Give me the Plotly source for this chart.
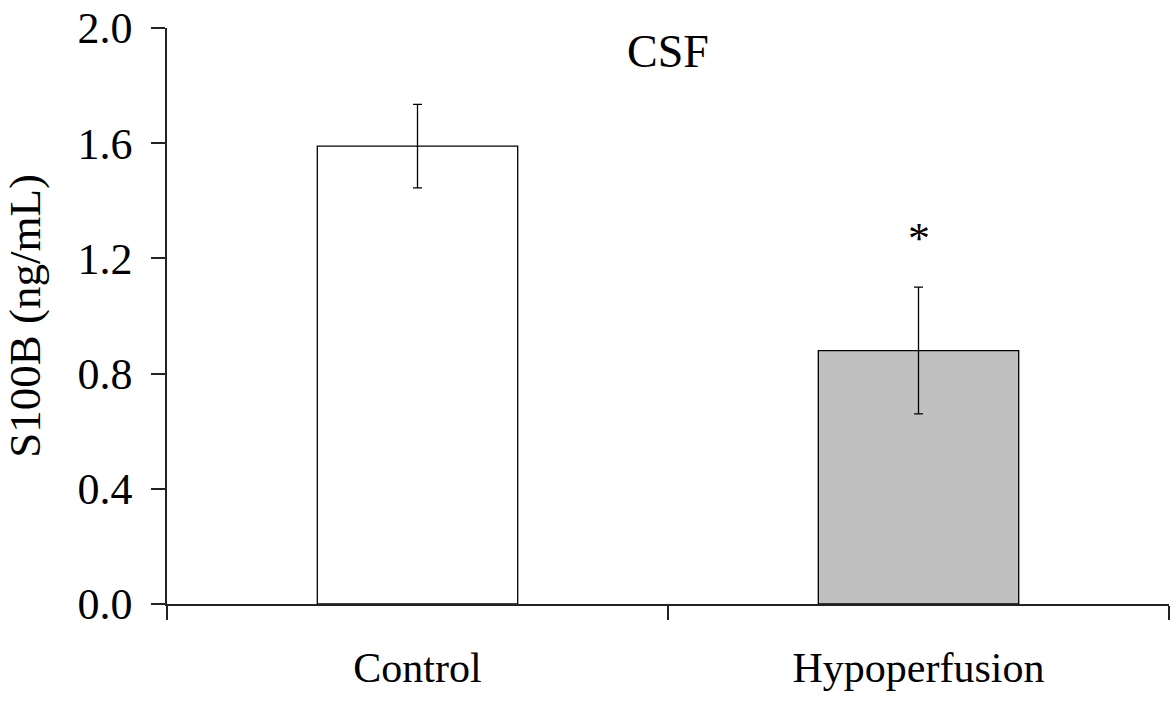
import plotly.graph_objects as go

# S100B concentration in cerebrospinal fluid, mean ± error
groups = ["Control", "Hypoperfusion"]
s100b_mean = [1.59, 0.88]
s100b_err = [0.145, 0.22]
bar_colors = ["#ffffff", "#c0c0c0"]

y_ticks = [0.0, 0.4, 0.8, 1.2, 1.6, 2.0]
y_tick_text = ["0.0", "0.4", "0.8", "1.2", "1.6", "2.0"]

# significance marker above the hypoperfusion bar
star_group = "Hypoperfusion"
star_y = 1.27

FONT = "Liberation Serif, Times New Roman, serif"

fig = go.Figure()
fig.add_trace(go.Bar(
    x=groups,
    y=s100b_mean,
    width=0.4,
    marker=dict(color=bar_colors, line=dict(color="#000000", width=1.3)),
    error_y=dict(type="data", array=s100b_err, visible=True,
                 color="#000000", thickness=1.3, width=4.5),
    showlegend=False,
))

fig.add_annotation(
    x=star_group, y=star_y, xref="x", yref="y",
    text="*", showarrow=False,
    font=dict(family=FONT, size=44, color="#000000"),
    yanchor="middle",
)

fig.update_layout(
    width=1171, height=702,
    margin=dict(l=167, r=2, t=28, b=98),
    paper_bgcolor="#ffffff",
    plot_bgcolor="#ffffff",
    font=dict(family=FONT, color="#000000"),
    title=dict(
        text="CSF", x=0.5, xref="paper", xanchor="center",
        y=1 - 51 / 702, yref="container", yanchor="middle",
        font=dict(family=FONT, size=46, color="#000000"),
    ),
    xaxis=dict(
        type="category",
        range=[-0.5, 1.5],
        showline=True, linecolor="#222222", linewidth=1.5,
        ticks="outside", tickson="boundaries", ticklen=14,
        tickwidth=1.5, tickcolor="#222222",
        tickfont=dict(family=FONT, size=42, color="#000000"),
        ticklabelstandoff=26,
        showgrid=False, zeroline=False,
    ),
    yaxis=dict(
        range=[0, 2.0],
        tickvals=y_ticks, ticktext=y_tick_text,
        showline=True, linecolor="#222222", linewidth=1.5,
        ticks="outside", ticklen=14, tickwidth=1.5, tickcolor="#222222",
        tickfont=dict(family=FONT, size=44, color="#000000"),
        ticklabelstandoff=10,
        showgrid=False, zeroline=False,
        title=dict(text="S100B (ng/mL)", standoff=26,
                   font=dict(family=FONT, size=45, color="#000000")),
    ),
)

fig.write_html("out.html")
